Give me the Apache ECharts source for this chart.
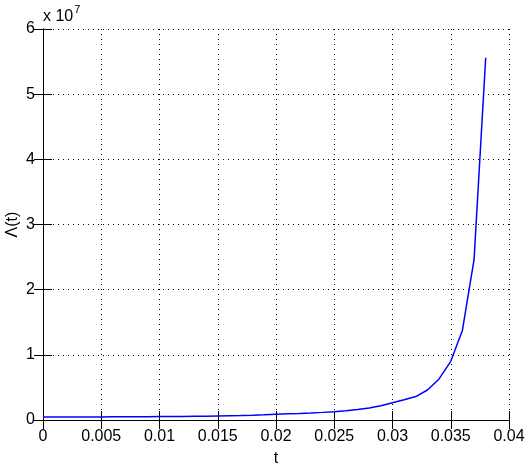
<!DOCTYPE html>
<html lang="en">
<head>
    <meta charset="UTF-8">
    <title>Lambda(t)</title>
    <script src="https://cdn.jsdelivr.net/npm/echarts@6/dist/echarts.min.js"></script>
    <style>
        html, body { margin: 0; padding: 0; background: #fff; }
        #chart { width: 525px; height: 467px; }
    </style>
</head>
<body>
<div id="chart"></div>
<script>
    // t values (step 0.001) and Lambda(t) in units of 1e7
    var tValues = [0.000, 0.001, 0.002, 0.003, 0.004, 0.005, 0.006, 0.007, 0.008, 0.009,
                   0.010, 0.011, 0.012, 0.013, 0.014, 0.015, 0.016, 0.017, 0.018, 0.019,
                   0.020, 0.021, 0.022, 0.023, 0.024, 0.025, 0.026, 0.027, 0.028, 0.029,
                   0.030, 0.031, 0.032, 0.033, 0.034, 0.035, 0.036, 0.037, 0.038];
    var lambdaValues = [0.045, 0.045, 0.046, 0.046, 0.047, 0.047, 0.048, 0.049, 0.050, 0.051,
                        0.052, 0.053, 0.055, 0.057, 0.059, 0.062, 0.065, 0.068, 0.073, 0.080,
                        0.088, 0.094, 0.100, 0.108, 0.117, 0.128, 0.142, 0.160, 0.185, 0.220,
                        0.265, 0.310, 0.360, 0.460, 0.630, 0.900, 1.375, 2.460, 5.560];
    var xTicks = [0, 0.005, 0.01, 0.015, 0.02, 0.025, 0.03, 0.035, 0.04];
    var yTicks = [0, 1, 2, 3, 4, 5, 6];

    var chart = echarts.init(document.getElementById('chart'));

    var font = 'Arial, "Liberation Sans", sans-serif';
    var points = tValues.map(function (t, i) { return [t, lambdaValues[i]]; });

    var frameAxis = {
        show: true,
        axisLine: { show: true, lineStyle: { color: '#000', width: 1 } },
        axisTick: { show: true, inside: true, length: 9, lineStyle: { color: '#000' } },
        axisLabel: { show: false },
        splitLine: { show: false }
    };

    var option = {
        backgroundColor: '#fff',
        animation: false,
        grid: { left: 43, right: 16, top: 29, bottom: 47, containLabel: false, outerBoundsMode: 'none' },
        xAxis: [{
            type: 'value',
            min: xTicks[0],
            max: xTicks[xTicks.length - 1],
            interval: 0.005,
            name: 't',
            nameLocation: 'middle',
            nameGap: 31,
            nameMoveOverlap: false,
            nameTextStyle: { color: '#000', fontSize: 16, fontFamily: font },
            axisLine: { show: true, lineStyle: { color: '#000', width: 1 } },
            axisTick: { show: true, inside: true, length: 9, lineStyle: { color: '#000' } },
            axisLabel: {
                color: '#000', fontSize: 16, fontFamily: font, margin: 9,
                formatter: function (v) { return String(+v.toFixed(3)); }
            },
            splitLine: { show: true, lineStyle: { color: '#000', type: [1, 4], width: 1 } }
        }, Object.assign({
            type: 'value', position: 'top',
            min: xTicks[0], max: xTicks[xTicks.length - 1], interval: 0.005
        }, frameAxis)],
        yAxis: [{
            type: 'value',
            min: yTicks[0],
            max: yTicks[yTicks.length - 1],
            interval: 1,
            name: 'Λ(t)',
            nameLocation: 'middle',
            nameGap: 22,
            nameMoveOverlap: false,
            nameTextStyle: { color: '#000', fontSize: 16, fontFamily: font },
            axisLine: { show: true, lineStyle: { color: '#000', width: 1 } },
            axisTick: { show: true, inside: true, length: 9, lineStyle: { color: '#000' } },
            axisLabel: { color: '#000', fontSize: 16, fontFamily: font, margin: 8 },
            splitLine: { show: true, lineStyle: { color: '#000', type: [1, 4], width: 1 } }
        }, Object.assign({
            type: 'value', position: 'right',
            min: yTicks[0], max: yTicks[yTicks.length - 1], interval: 1
        }, frameAxis)],
        graphic: [{
            type: 'text',
            left: 43,
            top: 4,
            style: {
                text: '{b|x 10}{s|7}',
                rich: {
                    b: { fontSize: 16, fontFamily: font, fill: '#000', padding: [8, 0, 0, 0] },
                    s: { fontSize: 11, fontFamily: font, fill: '#000', padding: [0, 0, 6, 1] }
                }
            }
        }],
        series: [{
            type: 'line',
            data: points,
            symbol: 'none',
            smooth: false,
            lineStyle: { color: '#0000ff', width: 1.5 }
        }]
    };

    chart.setOption(option);
</script>
</body>
</html>
